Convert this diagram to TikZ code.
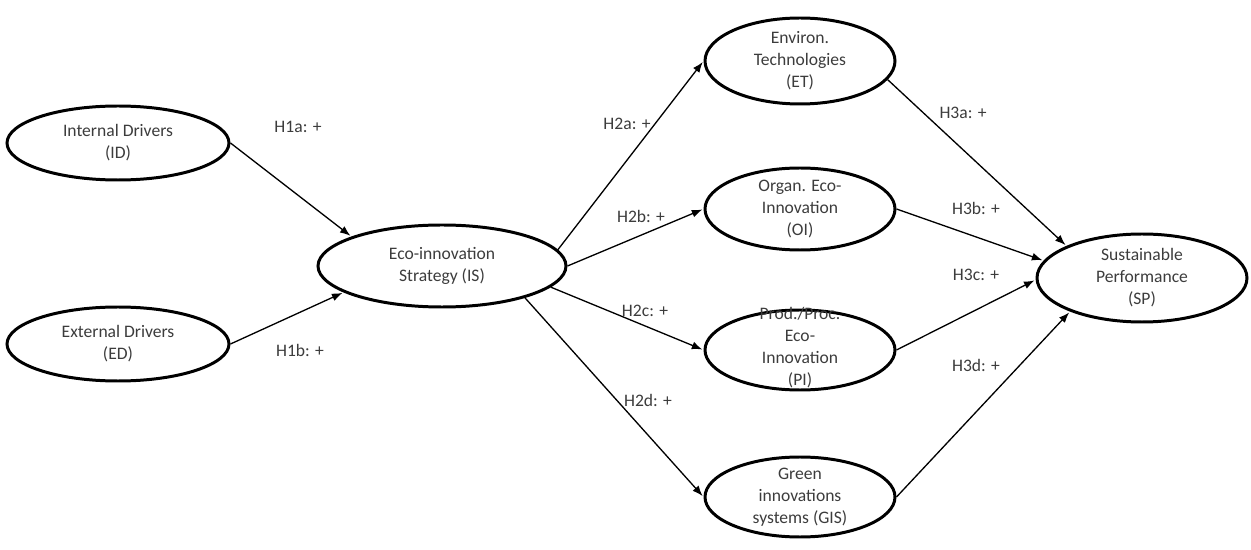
\documentclass[tikz,border=0pt]{standalone}
\usepackage{fontspec}
\setmainfont{Carlito}
\usepackage{xcolor}
\usetikzlibrary{arrows.meta}
\usetikzlibrary{shapes.geometric}
\definecolor{mygray}{RGB}{60,60,60}

\tikzset{
  construct/.style={ellipse, draw=black, line width=1.7pt, inner sep=0pt},
  ctext/.style={align=center, text=mygray, font=\fontsize{10}{12.5}\selectfont},
  hyp/.style={text=mygray, font=\fontsize{10}{12}\selectfont},
  link/.style={line width=0.75pt, shorten >=0.7pt, -{Latex[length=6pt,width=4.5pt]}}
}

\begin{document}
\begin{tikzpicture}[x=0.02cm, y=-0.02cm]
  \def\u{0.02cm}
  \useasboundingbox (0,0) rectangle (1251,550);

%drivers:
  \node[construct, minimum width=222*\u, minimum height=74*\u] (ID) at (118,143) {};
  \node[ctext] (IDt) at (ID) {Internal Drivers\\(ID)};
  \node[construct, minimum width=222*\u, minimum height=74*\u] (ED) at (118,344) {};
  \node[ctext] (EDt) at (ED) {External Drivers\\(ED)};

%strategy:
  \node[construct, minimum width=248*\u, minimum height=82*\u] (IS) at (442,266) {};
  \node[ctext] (ISt) at (IS) {Eco-innovation\\Strategy (IS)};

%eco-innovations:
  \node[construct, minimum width=190*\u, minimum height=86*\u] (ET) at (800,61) {};
  \node[ctext] (ETt) at (ET) {Environ.\\Technologies\\(ET)};
  \node[construct, minimum width=190*\u, minimum height=82*\u] (OI) at (800,209) {};
  \node[ctext] (OIt) at (OI) {Organ. Eco-\\Innovation\\(OI)};
  \node[construct, minimum width=190*\u, minimum height=80*\u] (PI) at (800,350) {};
  \node[ctext] (PIt) at (800,348) {Prod./Proc.\\Eco-\\Innovation\\(PI)};
  \node[construct, minimum width=190*\u, minimum height=80*\u] (GIS) at (800,497) {};
  \node[ctext] (GISt) at (GIS) {Green\\innovations\\systems (GIS)};

%performance:
  \node[construct, minimum width=210*\u, minimum height=88*\u] (SP) at (1142,278) {};
  \node[ctext] (SPt) at (SP) {Sustainable\\Performance\\(SP)};

%hypotheses:
  \draw[link] (ID.east) -- (IS.162);
  \draw[link] (ED.east) -- (IS.195);
  \draw[link] (IS.8) -- (ET.west);
  \draw[link] (IS.east) -- (OI.west);
  \draw[link] (IS.-11) -- (PI.west);
  \draw[link] (IS.-21) -- (GIS.west);
  \draw[link] (ET.-12) -- (SP.157);
  \draw[link] (OI.east) -- (SP.170);
  \draw[link] (PI.east) -- (SP.181);
  \draw[link] (GIS.east) -- (SP.205);

  \node[hyp] (H1a) at (298,127) {H1a: +};
  \node[hyp] (H1b) at (300,350) {H1b: +};
  \node[hyp] (H2a) at (627,124) {H2a: +};
  \node[hyp] (H2b) at (641,216) {H2b: +};
  \node[hyp] (H2c) at (645,311) {H2c: +};
  \node[hyp] (H2d) at (648,400) {H2d: +};
  \node[hyp] (H3a) at (963,113) {H3a: +};
  \node[hyp] (H3b) at (976,208) {H3b: +};
  \node[hyp] (H3c) at (976,275) {H3c: +};
  \node[hyp] (H3d) at (976,365) {H3d: +};

\end{tikzpicture}
\end{document}
